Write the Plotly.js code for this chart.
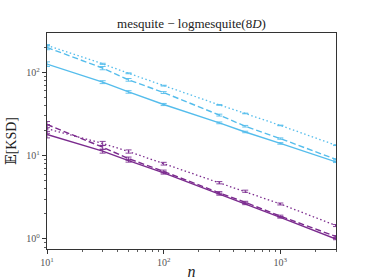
<!DOCTYPE html>
<html>
<head>
<meta charset="utf-8">
<script src="https://cdn.plot.ly/plotly-3.0.1.min.js"></script>
<style>html,body{margin:0;padding:0;background:#fff;}#chart{width:374px;height:280px;}</style>
</head>
<body>
<div id="chart"></div>
<script>
// ---- data ----
const nValues = [10, 30, 50, 100, 300, 500, 1000, 3000];

const cyanSolid    = [125, 76, 58, 41, 24.7, 19.2, 14, 8.4];
const cyanSolidErr = [8, 3, 2, 1.2, 0.6, 0.4, 0.3, 0.15];
const cyanDash     = [198, 112, 81, 57, 30.6, 22.5, 16, 9];
const cyanDashErr  = [12, 5, 3, 1.5, 0.8, 0.5, 0.3, 0.15];
const cyanDot      = [210, 126, 97, 69, 40.5, 32, 23, 13.3];
const cyanDotErr   = [4, 2, 1.2, 0.8, 0.4, 0.3, 0.2, 0.1];

const purpleSolid    = [17.9, 11.3, 8.7, 6.2, 3.45, 2.65, 1.82, 1.0];
const purpleSolidErr = [1.6, 0.6, 0.35, 0.2, 0.1, 0.07, 0.04, 0.02];
const purpleDash     = [23.6, 12.6, 9.2, 6.45, 3.58, 2.75, 1.88, 1.07];
const purpleDashErr  = [2.0, 0.7, 0.4, 0.25, 0.12, 0.08, 0.05, 0.03];
const purpleDot      = [21, 14, 11.2, 8.0, 4.73, 3.74, 2.63, 1.45];
const purpleDotErr   = [2.5, 0.8, 0.5, 0.3, 0.15, 0.11, 0.07, 0.04];

const xTickVals = [10, 100, 1000];
const xTickText = ['10<sup>1</sup>', '10<sup>2</sup>', '10<sup>3</sup>'];
const yTickVals = [1, 10, 100];
const yTickText = ['10<sup>0</sup>', '10<sup>1</sup>', '10<sup>2</sup>'];

// ---- styling ----
const CYAN = '#55bdec';
const PURPLE = '#7b2b8e';
const SERIF = 'Liberation Serif, DejaVu Serif, serif';

function minorVals(lo, hi) {
  const out = [];
  for (let d = lo; d <= hi; d++) {
    for (let k = 2; k <= 9; k++) out.push(k * Math.pow(10, d));
  }
  return out;
}

function tr(y, err, color, dash, w) {
  return {
    x: nValues, y: y, type: 'scatter', mode: 'lines',
    line: {color: color, width: w, dash: dash},
    error_y: {type: 'data', array: err, visible: true, color: color, thickness: 0.9, width: 3},
    showlegend: false, hoverinfo: 'skip'
  };
}

const data = [
  tr(cyanSolid, cyanSolidErr, CYAN, 'solid', 1.4),
  tr(cyanDash, cyanDashErr, CYAN, '6px,3px', 1.4),
  tr(cyanDot, cyanDotErr, CYAN, '1.5px,2.5px', 1.3),
  tr(purpleSolid, purpleSolidErr, PURPLE, 'solid', 1.4),
  tr(purpleDash, purpleDashErr, PURPLE, '6px,3px', 1.4),
  tr(purpleDot, purpleDotErr, PURPLE, '1.5px,2.5px', 1.3)
];

const axisCommon = {
  type: 'log', showgrid: false, zeroline: false,
  showline: true, linecolor: '#333', linewidth: 1.2, mirror: true,
  ticks: 'outside', ticklen: 4, tickwidth: 1, tickcolor: '#333',
  tickfont: {family: SERIF, size: 10, color: '#555'},
};

const layout = {
  width: 374, height: 280,
  margin: {l: 47, r: 38, t: 33, b: 31},
  paper_bgcolor: '#fff', plot_bgcolor: '#fff',
  title: {
    text: 'mesquite − logmesquite(8<i>D</i>)',
    font: {family: SERIF, size: 13, color: '#222'},
    x: 0.512, xanchor: 'center', y: 0.915, yanchor: 'middle'
  },
  xaxis: Object.assign({}, axisCommon, {
    range: [1, Math.log10(3000)],
    tickmode: 'array', tickvals: xTickVals, ticktext: xTickText,
    minor: {tickmode: 'array', tickvals: minorVals(1, 3), ticks: 'outside', ticklen: 2, tickwidth: 0.8, tickcolor: '#333'},
    title: {text: '<i>n</i>', font: {family: SERIF, size: 16, color: '#222'}, standoff: 12}
  }),
  yaxis: Object.assign({}, axisCommon, {
    range: [-0.12, 2.47],
    tickmode: 'array', tickvals: yTickVals, ticktext: yTickText,
    minor: {tickmode: 'array', tickvals: minorVals(-1, 2), ticks: 'outside', ticklen: 2, tickwidth: 0.8, tickcolor: '#333'},
    title: {text: '𝔼[KSD]', font: {family: 'Liberation Serif, DejaVu Serif, DejaVu Sans, serif', size: 14, color: '#222'}, standoff: 6}
  })
};

Plotly.newPlot('chart', data, layout, {staticPlot: true, displayModeBar: false});
</script>
</body>
</html>
